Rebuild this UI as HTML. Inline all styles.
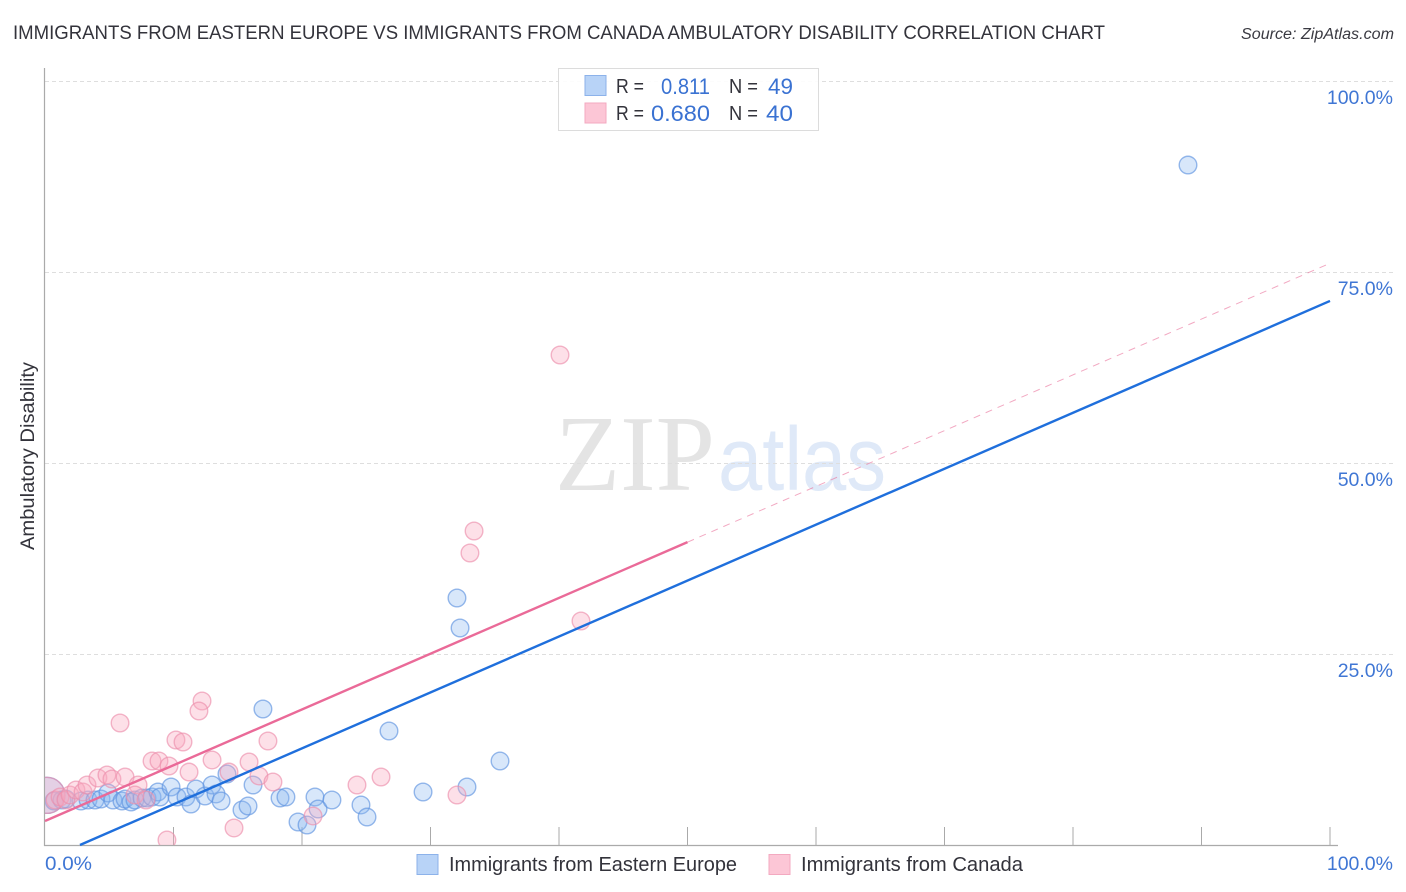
<!DOCTYPE html>
<html lang="en">
<head>
<meta charset="utf-8">
<title>Immigrants from Eastern Europe vs Immigrants from Canada Ambulatory Disability Correlation Chart</title>
<style>
html,body{margin:0;padding:0;background:#fff;width:1406px;height:892px;overflow:hidden}
svg{display:block;font-family:"Liberation Sans",sans-serif}
</style>
</head>
<body>
<svg id="chart" xmlns="http://www.w3.org/2000/svg" width="1406" height="892" viewBox="0 0 1406 892">
  <defs>
    <clipPath id="plot-clip"><rect x="45" y="60" width="1300" height="785"/></clipPath>
  </defs>
  <rect x="0" y="0" width="1406" height="892" fill="#fff"/>
  <text x="13" y="39" font-size="19" fill="#33333b" textLength="1092" lengthAdjust="spacingAndGlyphs">IMMIGRANTS FROM EASTERN EUROPE VS IMMIGRANTS FROM CANADA AMBULATORY DISABILITY CORRELATION CHART</text>
  <text x="1241" y="39" font-size="15.5" font-style="italic" fill="#3a3a42" textLength="153" lengthAdjust="spacingAndGlyphs">Source: ZipAtlas.com</text>
  <g>
    <text x="555" y="490" font-family="'Liberation Serif',serif" font-size="108" fill="#e4e4e4" textLength="160" lengthAdjust="spacingAndGlyphs">ZIP</text>
    <text x="718" y="490" font-size="90" fill="#dfe9f8" textLength="168" lengthAdjust="spacingAndGlyphs">atlas</text>
  </g>
  <g id="grid"></g>
  <g id="axes"></g>
  <g id="points-blue" clip-path="url(#plot-clip)"></g>
  <g id="points-pink" clip-path="url(#plot-clip)"></g>
  <g id="trends"></g>
  <g id="tick-labels"></g>
  <text transform="translate(34 456) rotate(-90)" font-size="19" fill="#33333b" text-anchor="middle" textLength="188" lengthAdjust="spacingAndGlyphs">Ambulatory Disability</text>

  <g>
    <rect x="558.5" y="68.5" width="260" height="62" fill="#fff" fill-opacity="0.9" stroke="#dcdcdc"/>
    <rect x="585" y="75.5" width="21" height="20" fill="#b8d3f7" stroke="#8cb2ea"/>
    <rect x="585" y="103" width="21" height="20" fill="#fcc6d6" stroke="#f3a9c0"/>
    <g font-size="20" fill="#33333b">
      <text x="616" y="93" textLength="28" lengthAdjust="spacingAndGlyphs">R =</text>
      <text x="729" y="93" textLength="29" lengthAdjust="spacingAndGlyphs">N =</text>
      <text x="616" y="120" textLength="28" lengthAdjust="spacingAndGlyphs">R =</text>
      <text x="729" y="120" textLength="29" lengthAdjust="spacingAndGlyphs">N =</text>
    </g>
    <g font-size="22" fill="#3a72d2">
      <text x="661" y="94" textLength="49" lengthAdjust="spacingAndGlyphs">0.811</text>
      <text x="768" y="94" textLength="25" lengthAdjust="spacingAndGlyphs">49</text>
      <text x="651" y="121" textLength="59" lengthAdjust="spacingAndGlyphs">0.680</text>
      <text x="766" y="121" textLength="27" lengthAdjust="spacingAndGlyphs">40</text>
    </g>
  </g>

  <g>
    <rect x="417" y="854.5" width="21" height="20" fill="#b8d3f7" stroke="#8cb2ea"/>
    <text x="449" y="871" font-size="20" fill="#33333b" textLength="288" lengthAdjust="spacingAndGlyphs">Immigrants from Eastern Europe</text>
    <rect x="769" y="854.5" width="21" height="20" fill="#fcc6d6" stroke="#f3a9c0"/>
    <text x="801" y="871" font-size="20" fill="#33333b" textLength="222" lengthAdjust="spacingAndGlyphs">Immigrants from Canada</text>
  </g>
</svg>
<script>
const blueX = [0.15,0.7,1.32,1.63,2.8,3.35,3.89,4.36,4.9,5.29,5.99,6.23,6.69,7.0,7.55,7.94,8.33,8.79,8.95,9.81,10.27,10.97,11.36,11.75,12.45,13.0,13.31,13.7,14.16,15.33,15.8,16.19,16.96,18.29,18.75,19.69,20.39,21.01,21.25,22.33,24.59,25.06,26.77,29.42,32.06,32.3,32.84,35.41,88.95];
const blueY = [6.5,5.76,5.89,6.02,5.76,5.89,5.89,6.02,6.81,5.89,5.76,6.02,5.63,5.89,6.15,6.15,6.28,6.94,6.28,7.59,6.28,6.28,5.37,7.33,6.41,7.85,6.68,5.76,9.29,4.58,5.1,7.85,17.8,6.15,6.28,3.01,2.62,6.28,4.71,5.89,5.24,3.66,14.92,6.94,32.33,28.4,7.59,10.99,89.0];
const pinkX = [0.15,0.78,1.17,1.63,1.95,2.41,2.96,3.27,4.12,4.82,5.21,6.23,7.24,7.0,7.86,5.84,12.22,11.98,10.19,10.74,8.33,8.87,9.65,11.21,13.0,14.32,15.88,17.35,16.65,17.74,14.71,9.49,24.28,26.15,32.06,20.86,40.08,33.39,33.07,41.71];
const pinkY = [6.5,5.89,6.28,5.89,6.54,7.2,6.94,7.85,8.77,9.16,8.64,8.9,7.85,6.54,5.89,15.97,18.85,17.54,13.74,13.48,10.99,10.99,10.34,9.55,11.13,9.55,10.86,13.61,9.03,8.25,2.23,0.65,7.85,8.9,6.54,3.8,64.14,41.1,38.22,29.32];
const blueTrend = [-1.99, 0.732];
const pinkTrend = [3.14, 0.73];
const blueTrendRange = [2.72, 100];
const pinkTrendRange = [0, 50];
const pinkDashRange = [50, 99.8];
const yTicks = [25, 50, 75, 100];
const yTickLabels = ["25.0%", "50.0%", "75.0%", "100.0%"];
const xTicks = [10, 20, 30, 40, 50, 60, 70, 80, 90, 100];
const xEndLabels = ["0.0%", "100.0%"];

const NS = "http://www.w3.org/2000/svg";
const xScale = v => 45 + v * 12.85;
const yScale = v => 845 - v * 7.64;
const make = (parent, tag, attrs) => {
  const el = document.createElementNS(NS, tag);
  for (const k in attrs) el.setAttribute(k, attrs[k]);
  document.getElementById(parent).appendChild(el);
  return el;
};

yTicks.forEach((t, i) => {
  const g = make("grid", "line", {x1: 45, x2: 1393, y1: yScale(t) + 0.5, y2: yScale(t) + 0.5, stroke: "#dedede", "stroke-width": 1, "stroke-dasharray": "4 3"});
  
  
  const label = make("tick-labels", "text", {x: 1393, y: yScale(t) + 23, "font-size": 19.5, fill: "#3f76d4", "text-anchor": "end"});
  label.textContent = yTickLabels[i];
  
  
});

const yAxis = make("axes", "line", {x1: 44.5, x2: 44.5, y1: 68, y2: 846, stroke: "#aaaaaa", "stroke-width": 1.2});


const xAxis = make("axes", "line", {x1: 44, x2: 1338, y1: 845.5, y2: 845.5, stroke: "#aaaaaa", "stroke-width": 1.2});


xTicks.forEach(t => {
  const tick = make("axes", "line", {x1: xScale(t), x2: xScale(t), y1: 827, y2: 845, stroke: "#aaaaaa", "stroke-width": 1});
  
  
});

const xStart = make("tick-labels", "text", {x: 45, y: 870, "font-size": 19.5, fill: "#3f76d4", textLength: 47, lengthAdjust: "spacingAndGlyphs"});
xStart.textContent = xEndLabels[0];


const xEnd = make("tick-labels", "text", {x: 1393, y: 870, "font-size": 19.5, fill: "#3f76d4", "text-anchor": "end"});
xEnd.textContent = xEndLabels[1];



blueX.forEach((x, i) => {
  const c = make("points-blue", "circle", {cx: xScale(x), cy: yScale(blueY[i]), r: i === 0 ? 18 : 8.8, fill: "#8ab6f0", "fill-opacity": 0.33, stroke: "#5f93e0", "stroke-opacity": 0.65, "stroke-width": 1.4});
  
  
});
pinkX.forEach((x, i) => {
  const c = make("points-pink", "circle", {cx: xScale(x), cy: yScale(pinkY[i]), r: i === 0 ? 18 : 8.8, fill: "#f9a8c0", "fill-opacity": 0.36, stroke: "#ec8fac", "stroke-opacity": 0.65, "stroke-width": 1.4});
  
  
});

const trendAt = (coef, x) => coef[0] + coef[1] * x;
const dash = make("trends", "line", {x1: xScale(pinkDashRange[0]), y1: yScale(trendAt(pinkTrend, pinkDashRange[0])), x2: xScale(pinkDashRange[1]), y2: yScale(trendAt(pinkTrend, pinkDashRange[1])), stroke: "#ea6f9a", "stroke-width": 1, "stroke-opacity": 0.6, "stroke-dasharray": "7 6"});


const pinkLine = make("trends", "line", {x1: xScale(pinkTrendRange[0]), y1: yScale(trendAt(pinkTrend, pinkTrendRange[0])), x2: xScale(pinkTrendRange[1]), y2: yScale(trendAt(pinkTrend, pinkTrendRange[1])), stroke: "#ea6a98", "stroke-width": 2.4});


const blueLine = make("trends", "line", {x1: xScale(blueTrendRange[0]), y1: yScale(trendAt(blueTrend, blueTrendRange[0])), x2: xScale(blueTrendRange[1]), y2: yScale(trendAt(blueTrend, blueTrendRange[1])), stroke: "#1f6fdc", "stroke-width": 2.4});


</script>
</body>
</html>
